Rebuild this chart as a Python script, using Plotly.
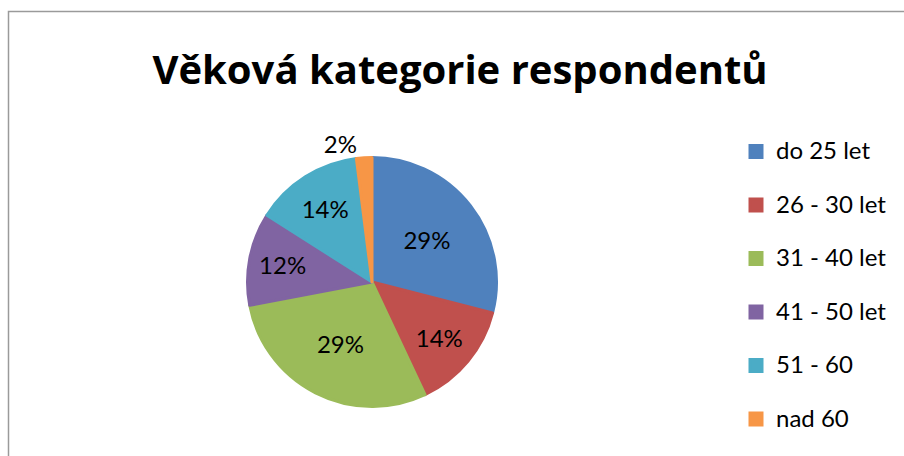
import plotly.graph_objects as go

# Age groups of survey respondents and their shares (%)
categories = ["do 25 let", "26 - 30 let", "31 - 40 let", "41 - 50 let", "51 - 60", "nad 60"]
shares = [29, 14, 29, 12, 14, 2]
colors = ["#4F81BD", "#C0504D", "#9BBB59", "#8064A2", "#4BACC6", "#F79646"]
label_pos = ["inside", "inside", "inside", "inside", "inside", "outside"]

W, H = 904, 456
FONT = "Lato, 'Open Sans', sans-serif"
TITLE_FONT = "'Open Sans', Lato, sans-serif"

# legend rows are two (small) lines tall so the entries are spread out
# vertically; the visible label text itself is set in a larger size
legend_labels = [f'<span style="font-size:24px">{c}</span><br> ' for c in categories]

# slices get an outline in their own colour, which also makes the legend
# swatches a little bigger; the domain is inset by half the outline width
OUTLINE = 3
inset = OUTLINE / 2

fig = go.Figure(
    go.Pie(
        labels=legend_labels,
        values=shares,
        sort=False,
        direction="clockwise",
        rotation=0,
        marker=dict(colors=colors, line=dict(width=OUTLINE, color=colors)),
        textinfo="percent",
        texttemplate="%{percent:.0%}",
        textposition=label_pos,
        insidetextorientation="horizontal",
        textfont=dict(family=FONT, size=24, color="black"),
        hovertemplate="%{customdata}: %{percent:.0%}<extra></extra>",
        customdata=categories,
        domain=dict(
            x=[(246 + inset) / W, (498 - inset) / W],
            y=[1 - (408 - inset) / H, 1 - (156 + inset) / H],
        ),
    )
)

fig.update_layout(
    width=W,
    height=H,
    margin=dict(l=0, r=0, t=0, b=0, autoexpand=False),
    paper_bgcolor="white",
    plot_bgcolor="white",
    title=dict(
        text="<b>Věková kategorie respondentů</b>",
        font=dict(family=TITLE_FONT, size=40, color="black"),
        x=460 / W,
        xanchor="center",
        y=1 - 70 / H,
        yanchor="middle",
        xref="paper",
        yref="paper",
    ),
    legend=dict(
        x=736 / W,
        xanchor="left",
        y=1 - 132.5 / H,
        yanchor="top",
        valign="top",
        font=dict(family=FONT, size=19.42, color="black"),
        bgcolor="rgba(0,0,0,0)",
        traceorder="normal",
    ),
    shapes=[
        dict(
            type="rect",
            xref="paper",
            yref="paper",
            x0=8.5 / W,
            x1=1.05,
            y0=-0.05,
            y1=1 - 11.5 / H,
            line=dict(color="#9a9a9a", width=1.5),
            layer="below",
        )
    ],
)

fig.write_html("out.html")
